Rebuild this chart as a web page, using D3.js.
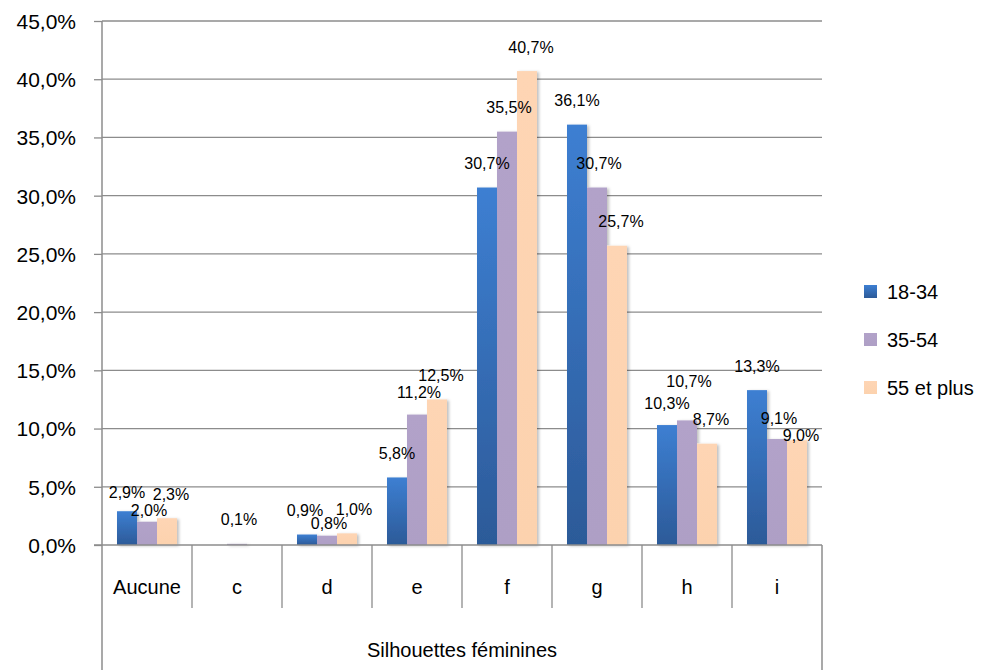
<!DOCTYPE html>
<html><head><meta charset="utf-8">
<script src="https://cdn.jsdelivr.net/npm/d3@7"></script>
<style>body{margin:0;background:#fff}svg{display:block;font-family:"Liberation Sans",Arial,sans-serif}</style>
</head><body><svg id="c" width="994" height="670"></svg>
<script>
const categories = ["Aucune","c","d","e","f","g","h","i"];
const seriesNames = ["18-34","35-54","55 et plus"];
const s1834 = [2.9, 0,   0.9, 5.8, 30.7, 36.1, 10.3, 13.3];
const s3554 = [2.0, 0.1, 0.8, 11.2,35.5, 30.7, 10.7, 9.1];
const s55   = [2.3, 0,   1.0, 12.5,40.7, 25.7, 8.7,  9.0];
const yTicks = [0,5,10,15,20,25,30,35,40,45];
const axisTitle = "Silhouettes féminines";

const series = [s1834, s3554, s55];
const fmt = v => v.toFixed(1).replace(".", ",") + "%";

// layout
const L = 102, R = 822, T = 21, B = 545;
const svg = d3.select("#c");
const x = d3.scaleBand().domain(categories).range([L, R]).paddingInner(0).paddingOuter(0);
const xs = d3.scaleBand().domain(d3.range(3)).range([0, x.bandwidth()]).paddingOuter(0.75).paddingInner(0);
const y = d3.scaleLinear().domain([0,45]).range([B, T]);

const defs = svg.append("defs");
const grads = [["#3d7fd2","#2c5a98"],["#b2a2c9","#ae9fc5"],["#fed5b4","#fcd2ae"]];
grads.forEach((g,i)=>{
  const lg = defs.append("linearGradient").attr("id","g"+i).attr("x1",0).attr("y1",0).attr("x2",0).attr("y2",1);
  lg.append("stop").attr("offset","0%").attr("stop-color",g[0]);
  lg.append("stop").attr("offset","100%").attr("stop-color",g[1]);
});
const f = defs.append("filter").attr("id","sh").attr("x","-20%").attr("y","-20%").attr("width","150%").attr("height","150%");
f.append("feDropShadow").attr("dx",2).attr("dy",1).attr("stdDeviation",1.5).attr("flood-color","#000").attr("flood-opacity",0.25);

// gridlines
svg.append("g").selectAll("line").data(yTicks.filter(t=>t>0)).join("line")
  .attr("x1", L).attr("x2", R).attr("y1", d=>y(d)).attr("y2", d=>y(d))
  .attr("stroke","#8c8c8c").attr("stroke-width",1.3);

// y axis
const ya = svg.append("g").attr("transform",`translate(${L},0)`)
  .call(d3.axisLeft(y).tickValues(yTicks).tickSize(8).tickFormat(fmt));
ya.select(".domain").remove();
ya.selectAll("line").attr("stroke","#8c8c8c").attr("stroke-width",1.3);
ya.selectAll("text").attr("font-size",21).attr("fill","#000").attr("x",-26).attr("dy","0.35em");
svg.append("line").attr("x1",L).attr("x2",L).attr("y1",T).attr("y2",670).attr("stroke","#8c8c8c").attr("stroke-width",1.5);
svg.append("line").attr("x1",R).attr("x2",R).attr("y1",B).attr("y2",670).attr("stroke","#8c8c8c").attr("stroke-width",1.5);

// bars
const bars = svg.append("g").attr("filter","url(#sh)");
series.forEach((s,si)=>{
  bars.append("g").selectAll("rect").data(s.map((v,i)=>({c:categories[i],v}))).join("rect")
    .attr("x", d=>x(d.c)+xs(si)).attr("width", xs.bandwidth())
    .attr("y", d=>y(d.v)).attr("height", d=>B - y(d.v))
    .attr("fill", `url(#g${si})`);
});

// x axis line and category separators
svg.append("line").attr("x1",L-8).attr("x2",R).attr("y1",B).attr("y2",B).attr("stroke","#8c8c8c").attr("stroke-width",1.5);
svg.append("g").selectAll("line").data(categories.slice(1)).join("line")
  .attr("x1",d=>x(d)).attr("x2",d=>x(d)).attr("y1",B).attr("y2",608)
  .attr("stroke","#8c8c8c").attr("stroke-width",1.3);
svg.append("g").selectAll("text").data(categories).join("text")
  .attr("x",d=>x(d)+x.bandwidth()/2).attr("y",587).attr("dy","0.35em")
  .attr("text-anchor","middle").attr("font-size",20).text(d=>d);
svg.append("text").attr("x",(L+R)/2).attr("y",650).attr("dy","0.35em")
  .attr("text-anchor","middle").attr("font-size",20).text(axisTitle);

// data labels (Excel-like placement tweaks)
const nudgeY = {"Aucune|0":5,"Aucune|1":13,"d|1":12,"h|1":-15,"i|2":19,"e|1":2,"h|0":2,"i|1":3};
const nudgeX = {"d|0":-2,"d|2":3};
const shiftX = [0,2,4];
const lab = svg.append("g");
series.forEach((s,si)=>{
  s.forEach((v,i)=>{
    if (v <= 0) return;
    const c = categories[i];
    const cx = x(c)+xs(si)+xs.bandwidth()/2 + shiftX[si] + (nudgeX[c+"|"+si]||0);
    const cy = y(v) - 24 + (nudgeY[c+"|"+si]||0);
    lab.append("text").attr("x",cx).attr("y",cy).attr("dy","0.35em")
      .attr("text-anchor","middle").attr("font-size",16).text(fmt(v));
  });
});

// legend
const lg = svg.append("g");
seriesNames.forEach((n,i)=>{
  const cy = 292 + i*48;
  lg.append("rect").attr("x",864).attr("y",cy-7).attr("width",13).attr("height",13).attr("fill",`url(#g${i})`);
  lg.append("text").attr("x",887).attr("y",cy).attr("dy","0.35em").attr("font-size",20).text(n);
});
</script></body></html>
